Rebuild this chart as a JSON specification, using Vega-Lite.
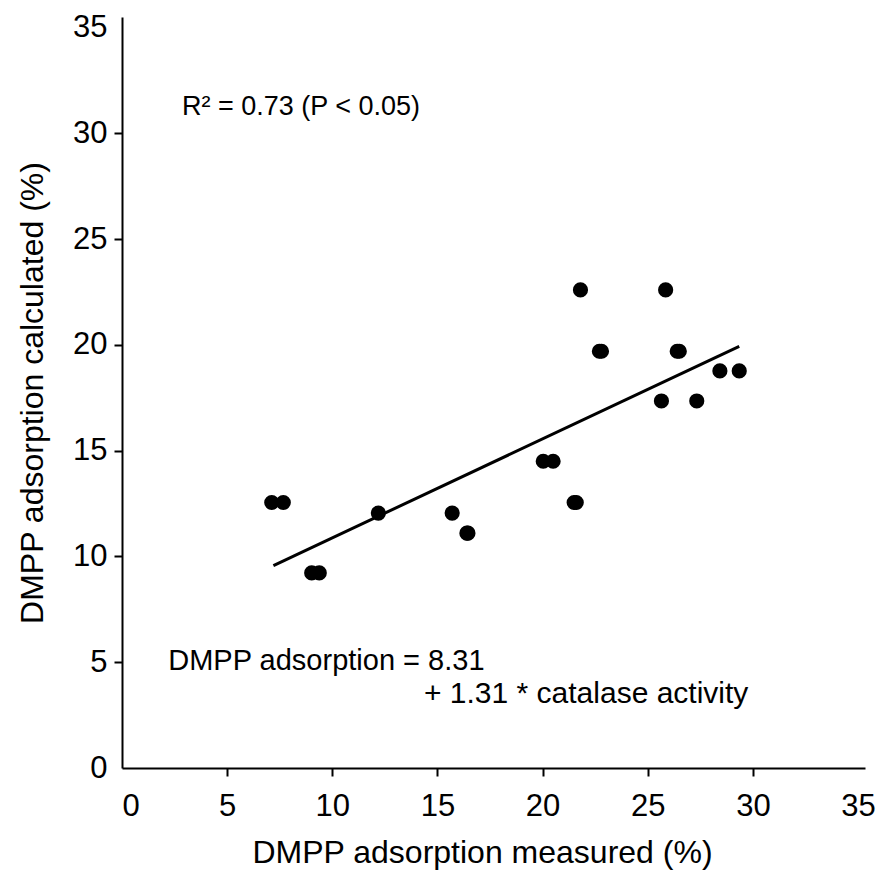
{
  "$schema": "https://vega.github.io/schema/vega-lite/v6.json",
  "width": 743,
  "height": 751,
  "autosize": {"type": "none"},
  "padding": {"left": 122, "top": 17, "right": 15, "bottom": 116},
  "background": "white",
  "config": {
    "view": {"stroke": null},
    "font": "Liberation Sans",
    "axis": {
      "grid": false,
      "domainColor": "black",
      "domainWidth": 2,
      "tickColor": "black",
      "tickWidth": 2,
      "tickSize": 8,
      "labelColor": "black",
      "labelFont": "Liberation Sans",
      "labelFontSize": 31,
      "titleFont": "Liberation Sans",
      "titleFontSize": 32,
      "titleFontWeight": "normal",
      "titleColor": "black"
    }
  },
  "datasets": {
    "points": [
      {"measured": 7.12, "calculated": 12.55},
      {"measured": 7.67, "calculated": 12.55},
      {"measured": 9.02, "calculated": 9.22},
      {"measured": 9.38, "calculated": 9.22},
      {"measured": 12.19, "calculated": 12.05},
      {"measured": 15.7, "calculated": 12.05},
      {"measured": 16.4, "calculated": 11.1},
      {"measured": 16.45, "calculated": 11.1},
      {"measured": 20.03, "calculated": 14.5},
      {"measured": 20.5, "calculated": 14.5},
      {"measured": 21.5, "calculated": 12.55},
      {"measured": 21.6, "calculated": 12.55},
      {"measured": 21.8, "calculated": 22.6},
      {"measured": 25.85, "calculated": 22.6},
      {"measured": 22.7, "calculated": 19.7},
      {"measured": 22.8, "calculated": 19.7},
      {"measured": 26.4, "calculated": 19.7},
      {"measured": 26.5, "calculated": 19.7},
      {"measured": 25.65, "calculated": 17.35},
      {"measured": 27.33, "calculated": 17.35},
      {"measured": 28.43, "calculated": 18.77},
      {"measured": 29.35, "calculated": 18.77}
    ],
    "fit": [
      {"measured": 7.2, "calculated": 9.57},
      {"measured": 29.35, "calculated": 19.93}
    ],
    "notes": [
      {"x": 2.85, "y": 30.85, "label": "R² = 0.73 (P < 0.05)", "size": 27},
      {"x": 2.2, "y": 4.63, "label": "DMPP adsorption = 8.31", "size": 29},
      {"x": 14.36, "y": 3.07, "label": "+ 1.31 * catalase activity", "size": 30}
    ]
  },
  "layer": [
    {
      "data": {"name": "fit"},
      "mark": {"type": "line", "color": "black", "strokeWidth": 3},
      "encoding": {
        "x": {
          "field": "measured",
          "type": "quantitative",
          "scale": {"domain": [0, 35.33], "nice": false, "zero": false},
          "axis": {
            "values": [0, 5, 10, 15, 20, 25, 30, 35],
            "title": "DMPP adsorption measured (%)",
            "labelPadding": 15,
            "titleX": 360,
            "titleY": 94,
            "titleBaseline": "alphabetic",
            "tickOpacity": {"condition": {"test": "datum.value == 0 || datum.value == 35", "value": 0}, "value": 1}
          }
        },
        "y": {
          "field": "calculated",
          "type": "quantitative",
          "scale": {"domain": [0, 35.5], "nice": false, "zero": false},
          "axis": {
            "values": [0, 5, 10, 15, 20, 25, 30, 35],
            "title": "DMPP adsorption calculated (%)",
            "labelPadding": 7,
            "titleX": -80,
            "titleBaseline": "alphabetic",
            "tickOpacity": {"condition": {"test": "datum.value == 0 || datum.value == 35", "value": 0}, "value": 1}
          }
        }
      }
    },
    {
      "data": {"name": "points"},
      "mark": {"type": "circle", "color": "black", "opacity": 1, "size": 230},
      "encoding": {
        "x": {"field": "measured", "type": "quantitative"},
        "y": {"field": "calculated", "type": "quantitative"}
      }
    },
    {
      "data": {"name": "notes"},
      "mark": {"type": "text", "align": "left", "baseline": "alphabetic", "color": "black", "font": "Liberation Sans"},
      "encoding": {
        "x": {"field": "x", "type": "quantitative"},
        "y": {"field": "y", "type": "quantitative"},
        "text": {"field": "label"},
        "size": {"field": "size", "type": "quantitative", "scale": null}
      }
    }
  ]
}
